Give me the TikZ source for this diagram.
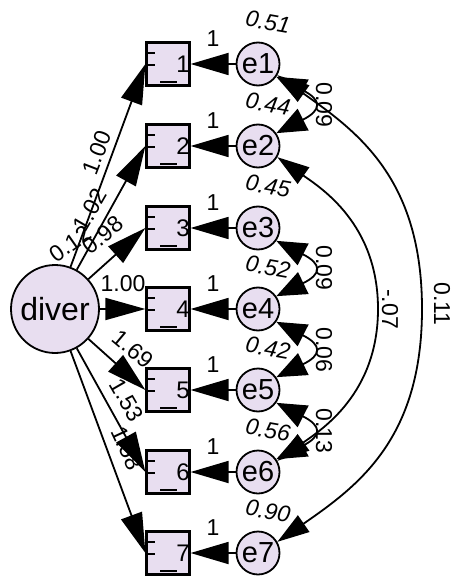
\documentclass[tikz,border=0pt]{standalone}
\usepackage{fontspec}
\setmainfont{Liberation Sans}
\usetikzlibrary{arrows.meta}
\definecolor{boxfill}{RGB}{232,222,240}
\tikzset{
  obs/.style={draw, line width=2.2pt, fill=boxfill, minimum size=43pt, inner sep=0pt},
  lat/.style={draw, circle, line width=1.8pt, fill=boxfill, minimum size=88pt, inner sep=0pt, font=\fontsize{32}{32}\selectfont},
  err/.style={draw, circle, line width=1.8pt, fill=boxfill, minimum size=43pt, inner sep=0pt, font=\fontsize{29}{29}\selectfont},
  dig/.style={inner sep=0pt, font=\fontsize{24}{24}\selectfont},
  lbl/.style={inner sep=0pt, font=\fontsize{23}{23}\selectfont},
  varl/.style={inner sep=0pt, font=\fontsize{23}{23}\selectfont\itshape, rotate=-10},
  load/.style={-{Triangle[length=40pt,width=22pt]}, line width=1.8pt},
  errarr/.style={-{Triangle[length=38pt,width=22pt]}, line width=1.8pt},
  covl/.style={{Triangle[length=32pt,width=20pt]}-{Triangle[length=32pt,width=20pt]}, line width=1.8pt},
  covs/.style={{Triangle[length=30pt,width=24pt]}-{Triangle[length=30pt,width=24pt]}, line width=1.8pt},
  frag/.style={line width=1.8pt},
}
\begin{document}
\begin{tikzpicture}[x=1pt,y=1pt]
\useasboundingbox (0,0) rectangle (455,-577);
% loading labels (drawn first, lines overlap them)
\node[lbl, rotate=69] (l1) at (97,-153) {1.00};
\node[lbl, rotate=60] (l2) at (90,-210) {1.02};
\node[lbl, rotate=35] (l0) at (70,-244) {0.12};
\node[lbl, rotate=40] (l3) at (103,-235) {0.98};
\node[lbl] (l4) at (123,-284) {1.00};
\node[lbl, rotate=-40] (l5) at (133,-349) {1.69};
\node[lbl, rotate=-60] (l6) at (127,-400) {1.53};
\node[lbl, rotate=-65] (l7) at (127,-448) {1.58};
% latent
\node[lat] (diver) at (55,-309) {diver};
% observed boxes, error circles
\foreach \i/\c in {1/64,2/146,3/228,4/309,5/390,6/472,7/553}{
  \node[obs] (b\i) at (168,-\c) {};
  \node[dig] (d\i) at (183,-\c) {\i};
  \draw[frag] (147,-\c+11) -- (155,-\c+11);
  \draw[frag] (147,-\c-1) -- (155,-\c-1);
  \draw[frag] (160,-\c-18) -- (177,-\c-18);
  \node[err] (e\i) at (258,-\c) {e\i};
  \node[lbl] (one\i) at (213,-\c+25) {1};
  \draw[errarr] (e\i) -- (b\i);
  \draw[load] (diver) -- (b\i.west);
}
% variance labels
\node[varl] (v1) at (268,-22) {0.51};
\node[varl] (v2) at (268,-104) {0.44};
\node[varl] (v3) at (268,-186) {0.45};
\node[varl] (v4) at (268,-267) {0.52};
\node[varl] (v5) at (268,-348) {0.42};
\node[varl] (v6) at (268,-430) {0.56};
\node[varl] (v7) at (268,-511) {0.90};
% short covariances
\draw[covs] (e1.-35) .. controls (322,-100) and (322,-110) .. (e2.35);
\draw[covs] (e3.-35) .. controls (322,-264) and (322,-274) .. (e4.35);
\draw[covs] (e4.-35) .. controls (322,-345) and (322,-355) .. (e5.35);
\draw[covs] (e5.-35) .. controls (322,-426) and (322,-436) .. (e6.35);
\node[lbl, rotate=-90] (c12) at (324,-105) {0.09};
\node[lbl, rotate=-90] (c34) at (324,-268) {0.09};
\node[lbl, rotate=-90] (c45) at (324,-350) {0.06};
\node[lbl, rotate=-90] (c56) at (324,-431) {0.13};
% long covariances
\coordinate (m26) at (378,-309);
\coordinate (m17) at (422,-309);
\draw[covl] (e2.-30) .. controls (321,-188) and (378,-224) .. (m26)
            .. controls (378,-394) and (321,-430) .. (e6.30);
\draw[covl] (e1.-30) .. controls (358,-132) and (422,-179) .. (m17)
            .. controls (422,-439) and (358,-486) .. (e7.30);
\node[lbl, rotate=-90] (c26) at (390,-309) {-.07};
\node[lbl, rotate=-90] (c17) at (442,-304) {0.11};
\end{tikzpicture}
\end{document}
